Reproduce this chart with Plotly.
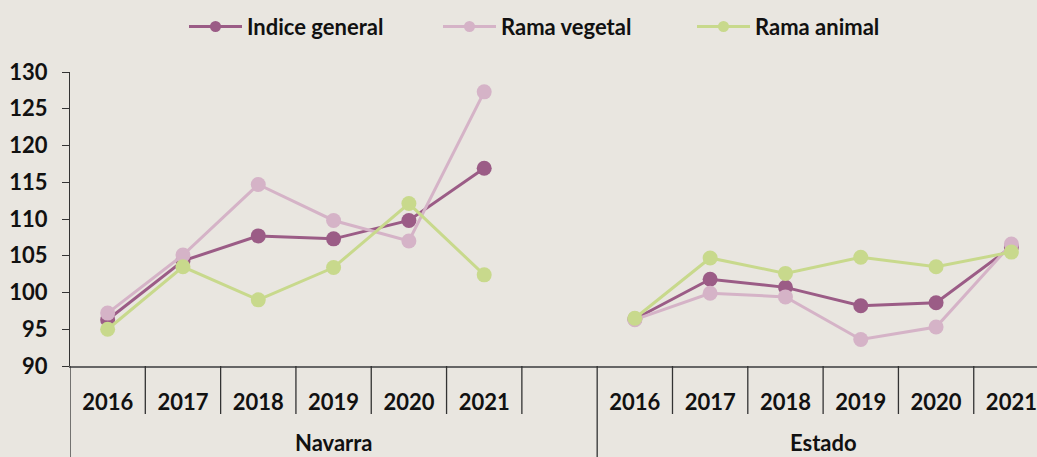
import plotly.graph_objects as go

# Índices por territorio y año
years = ["2016", "2017", "2018", "2019", "2020", "2021"]
groups = ["Navarra", "Estado"]

navarra_general = [96.3, 104.3, 107.7, 107.3, 109.8, 116.9]
navarra_vegetal = [97.2, 105.1, 114.7, 109.8, 107.0, 127.3]
navarra_animal = [95.0, 103.5, 99.0, 103.4, 112.1, 102.4]

estado_general = [96.4, 101.8, 100.7, 98.2, 98.6, 106.2]
estado_vegetal = [96.3, 99.9, 99.4, 93.6, 95.3, 106.6]
estado_animal = [96.5, 104.7, 102.6, 104.8, 103.5, 105.5]

series = [
    ("Indice general", navarra_general, estado_general, "#9b5c86"),
    ("Rama vegetal", navarra_vegetal, estado_vegetal, "#d5b3c7"),
    ("Rama animal", navarra_animal, estado_animal, "#c8d98c"),
]

# Posiciones de categoría: Navarra ocupa 7 huecos (el último vacío), Estado 6
n = len(years)
nav_pos = list(range(n))
est_pos = [n + 1 + i for i in range(n)]
all_pos = nav_pos + est_pos
boundaries = [p - 0.5 for p in range(n * 2 + 2)]
group_split = n + 0.5

FONT = "Lato"
INK = "#111111"
LINE = "#333333"
BG = "#e9e6e0"

fig = go.Figure()
for name, nav, est, color in series:
    fig.add_trace(go.Scatter(
        x=nav_pos + [n] + est_pos,
        y=nav + [None] + est,
        name=name, legendgroup=name, showlegend=False,
        mode="lines+markers",
        line=dict(color=color, width=3),
        marker=dict(color=color, size=15),
        cliponaxis=False,
    ))
    # entrada de leyenda con marcador más pequeño
    fig.add_trace(go.Scatter(
        x=[None], y=[None], name=name, legendgroup=name,
        mode="lines+markers",
        line=dict(color=color, width=3),
        marker=dict(color=color, size=11),
    ))

H_PLOT = 457 - 72 - 91
div_len = 48 / H_PLOT
bottom = -91 / H_PLOT

# separadores entre años
for b in boundaries:
    tall = b in (-0.5, group_split)
    fig.add_shape(type="line", xref="x", yref="paper",
                  x0=b, x1=b, y0=0, y1=(bottom if tall else -div_len),
                  line=dict(color=LINE, width=1.3), layer="above")

# etiquetas de grupo
for g, pos in ((groups[0], nav_pos + [n]), (groups[1], est_pos)):
    fig.add_annotation(x=sum(pos) / len(pos), xref="x", y=-76 / H_PLOT, yref="paper",
                       text=g, showarrow=False, yanchor="middle",
                       font=dict(family=FONT, size=22, color=INK, weight="bold"))

fig.update_layout(
    width=1037, height=457,
    paper_bgcolor=BG, plot_bgcolor=BG,
    margin=dict(l=70, r=0, t=72, b=91, autoexpand=False),
    font=dict(family=FONT, size=22, color=INK, weight="bold"),
    showlegend=True,
    legend=dict(orientation="h", xref="container", x=184 / 1037, xanchor="left",
                yref="container", y=1 - 26.7 / 457, yanchor="middle",
                font=dict(size=22, weight="bold"), bgcolor="rgba(0,0,0,0)",
                itemwidth=53, entrywidth=186, entrywidthmode="pixels",
                itemclick=False, itemdoubleclick=False),
)
fig.update_yaxes(
    range=[90, 130], dtick=5, showgrid=False, zeroline=False,
    showline=True, linecolor=LINE, linewidth=1.3,
    ticks="outside", ticklen=7, tickcolor=LINE, tickwidth=1.3,
    ticklabelstandoff=10,
    tickfont=dict(size=22, weight="bold"),
)
fig.update_xaxes(
    range=[-0.5, 12.34], showgrid=False, zeroline=False,
    showline=True, linecolor="#666666", linewidth=2,
    tickmode="array", tickvals=all_pos, ticktext=years + years,
    ticks="", ticklabelstandoff=16,
    tickfont=dict(size=22, weight="bold"),
)

fig.write_html("out.html")
